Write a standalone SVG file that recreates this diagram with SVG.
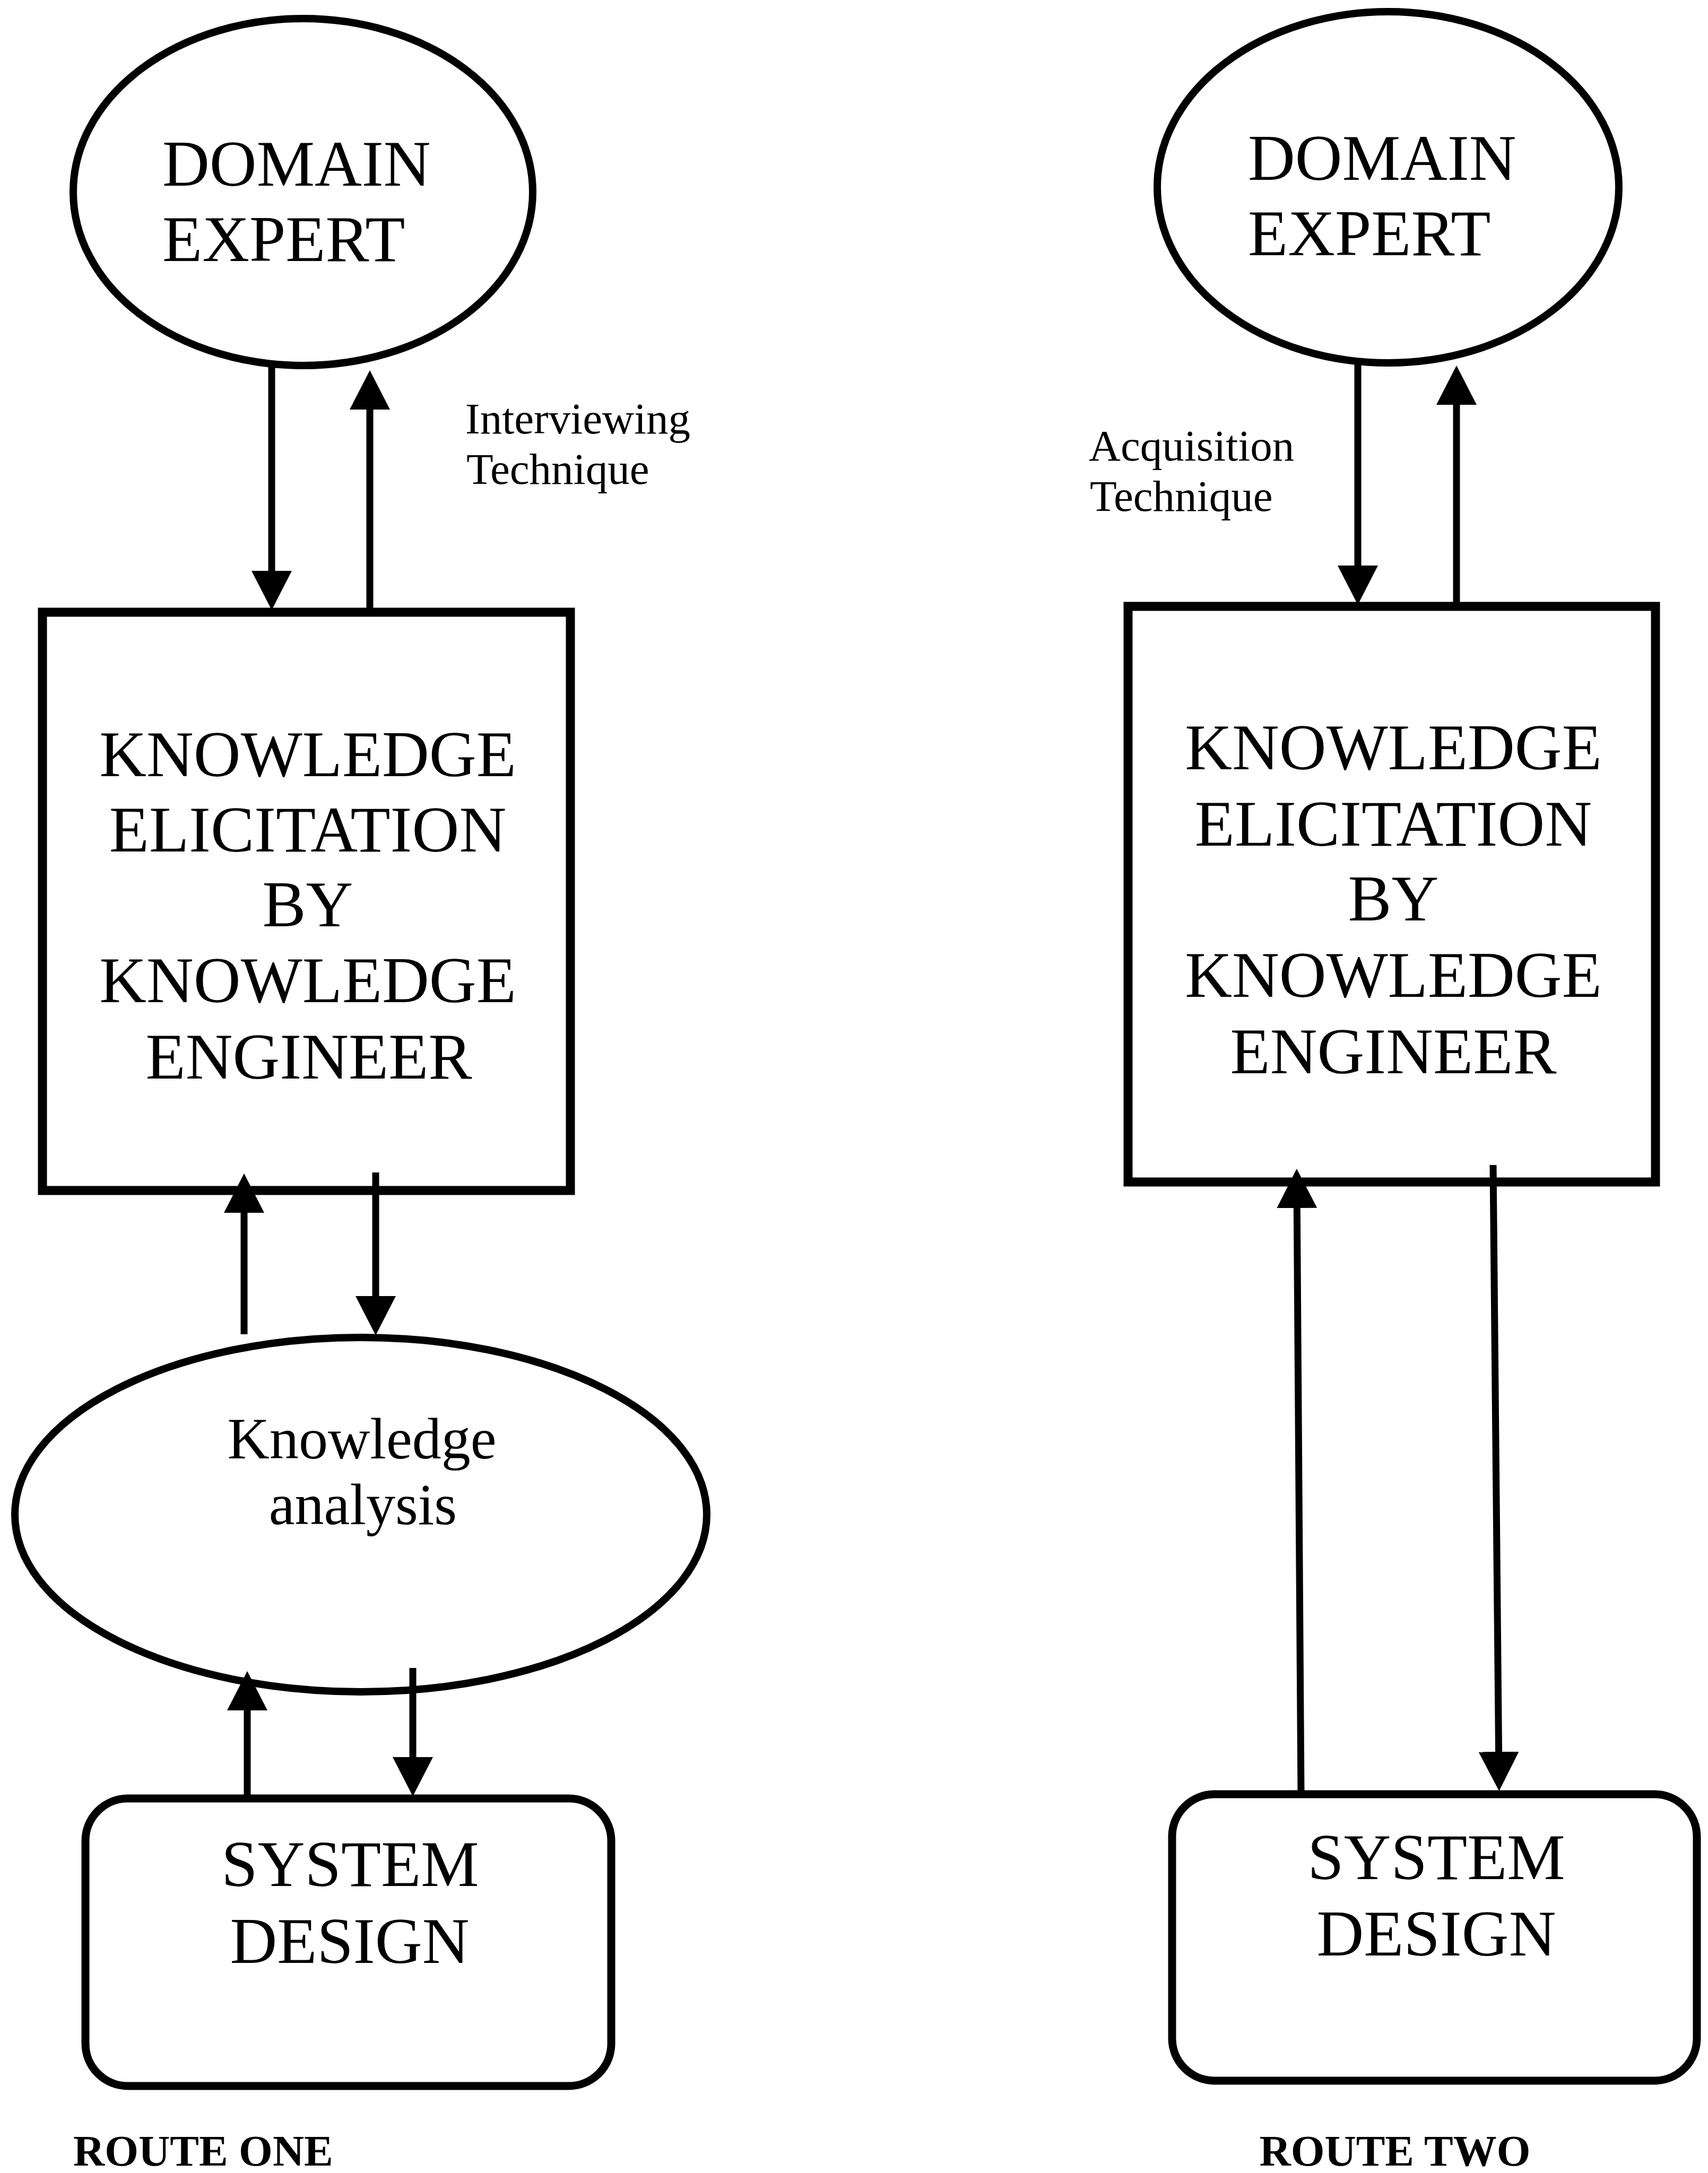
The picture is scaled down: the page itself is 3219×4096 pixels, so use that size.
<svg xmlns="http://www.w3.org/2000/svg" width="3219" height="4096" viewBox="0 0 3219 4096">
<style>
.bg{fill:#fff}
.ell{fill:none;stroke:#000;stroke-width:14}
.box{fill:none;stroke:#000;stroke-width:17}
.rbox{fill:none;stroke:#000;stroke-width:15}
.big{font-family:"Liberation Serif","Times New Roman",serif;font-size:123px;fill:#000}
.mid{font-family:"Liberation Serif","Times New Roman",serif;font-size:110px;fill:#000;text-anchor:middle}
.lbl{font-family:"Liberation Serif","Times New Roman",serif;font-size:83px;fill:#000}
.route{font-family:"Liberation Serif","Times New Roman",serif;font-size:82px;font-weight:bold;fill:#000}
.c{text-anchor:middle}
.arr{stroke:#000;stroke-width:13;fill:none;marker-end:url(#ah)}
</style>
<defs>
<marker id="ah" markerUnits="userSpaceOnUse" markerWidth="74" markerHeight="76" viewBox="0 0 74 76" refX="44" refY="38" orient="auto">
<path d="M0,0 L74,38 L0,76 z" fill="#000"/>
</marker>
</defs>
<rect class="bg" x="0" y="0" width="3219" height="4096"/>

<g id="domain-expert-1">
<ellipse class="ell" cx="571" cy="362" rx="433" ry="327"/>
<text class="big" x="306" y="350">DOMAIN</text>
<text class="big" x="306" y="492">EXPERT</text>
</g>

<g id="ke-box-1">
<rect class="box" x="80" y="1154" width="995" height="1090"/>
<text class="big c" x="580" y="1463">KNOWLEDGE</text>
<text class="big c" x="580" y="1605">ELICITATION</text>
<text class="big c" x="580" y="1746">BY</text>
<text class="big c" x="580" y="1889">KNOWLEDGE</text>
<text class="big c" x="582" y="2033">ENGINEER</text>
</g>

<g id="knowledge-analysis">
<ellipse class="ell" cx="680" cy="2855" rx="652" ry="334"/>
<text class="mid" x="682" y="2749">Knowledge</text>
<text class="mid" x="684" y="2873">analysis</text>
</g>

<g id="system-design-1">
<rect class="rbox" x="161" y="3390" width="991" height="542" rx="80" ry="80"/>
<text class="big c" x="660" y="3555">SYSTEM</text>
<text class="big c" x="659" y="3700">DESIGN</text>
</g>

<g id="domain-expert-2">
<ellipse class="ell" cx="2616" cy="353" rx="435" ry="331"/>
<text class="big" x="2352" y="339">DOMAIN</text>
<text class="big" x="2352" y="481">EXPERT</text>
</g>

<g id="ke-box-2">
<rect class="box" x="2126" y="1143" width="994" height="1085"/>
<text class="big c" x="2626" y="1450">KNOWLEDGE</text>
<text class="big c" x="2626" y="1594">ELICITATION</text>
<text class="big c" x="2626" y="1735">BY</text>
<text class="big c" x="2626" y="1879">KNOWLEDGE</text>
<text class="big c" x="2626" y="2023">ENGINEER</text>
</g>

<g id="system-design-2">
<rect class="rbox" x="2209" y="3382" width="989" height="540" rx="80" ry="80"/>
<text class="big c" x="2707" y="3542">SYSTEM</text>
<text class="big c" x="2707" y="3686">DESIGN</text>
</g>

<g id="labels">
<text class="lbl" x="877" y="817">Interviewing</text>
<text class="lbl" x="879" y="912">Technique</text>
<text class="lbl" x="2052" y="868">Acquisition</text>
<text class="lbl" x="2054" y="963">Technique</text>
<text class="route" x="138" y="4082">ROUTE ONE</text>
<text class="route c" x="2629" y="4082">ROUTE TWO</text>
</g>

<g id="connectors">
<line class="arr" x1="512" y1="689" x2="512" y2="1120"/>
<line class="arr" x1="697" y1="1150" x2="697" y2="728"/>
<line class="arr" x1="460" y1="2515" x2="460" y2="2242"/>
<line class="arr" x1="708" y1="2210" x2="708" y2="2487"/>
<line class="arr" x1="466" y1="3390" x2="466" y2="3180"/>
<line class="arr" x1="778" y1="3144" x2="778" y2="3356"/>
<line class="arr" x1="2559" y1="686" x2="2559" y2="1110"/>
<line class="arr" x1="2745" y1="1143" x2="2745" y2="719"/>
<line class="arr" x1="2452" y1="3382" x2="2444" y2="2233"/>
<line class="arr" x1="2814" y1="2196" x2="2825" y2="3346"/>
</g>
</svg>
